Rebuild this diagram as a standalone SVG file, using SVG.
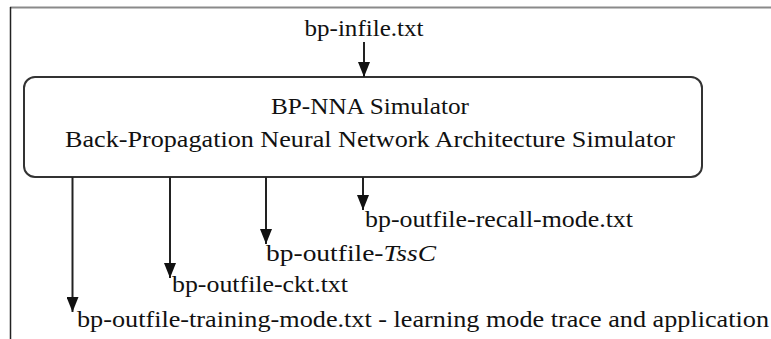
<svg xmlns="http://www.w3.org/2000/svg" width="771" height="339" viewBox="0 0 771 339">
<style>
.t{font-family:'Liberation Serif','Times New Roman',Tinos,'Nimbus Roman','DejaVu Serif',serif;font-size:24px;fill:#111}
.c{stroke:#222;stroke-width:2;fill:none}
</style>
<defs>
<marker id="ah" viewBox="0 0 15 12" refX="15" refY="6" markerWidth="15" markerHeight="12" markerUnits="userSpaceOnUse" orient="auto">
<path d="M0,0 L15,6 L0,12 Z" fill="#111"/>
</marker>
</defs>
<rect width="771" height="339" fill="#fff"/>
<g id="frame">
<line x1="10" y1="7.5" x2="771" y2="7.5" stroke="#8a8a8a" stroke-width="2"/>
<line x1="10.5" y1="7" x2="10.5" y2="339" stroke="#222" stroke-width="1.5"/>
</g>
<g id="input">
<text class="t" x="364" y="36" text-anchor="middle" textLength="119" lengthAdjust="spacingAndGlyphs">bp-infile.txt</text>
</g>
<g id="simulator">
<rect x="24" y="77" width="678" height="100" rx="11" fill="#fff" stroke="#333" stroke-width="2"/>
<text class="t" x="370" y="114" text-anchor="middle" textLength="198" lengthAdjust="spacingAndGlyphs">BP-NNA Simulator</text>
<text class="t" x="370" y="147" text-anchor="middle" textLength="610" lengthAdjust="spacingAndGlyphs">Back-Propagation Neural Network Architecture Simulator</text>
</g>
<g id="recall">
<text class="t" x="365" y="227" textLength="268" lengthAdjust="spacingAndGlyphs">bp-outfile-recall-mode.txt</text>
</g>
<g id="tssc">
<text class="t" x="266" y="260.5" textLength="170" lengthAdjust="spacingAndGlyphs">bp-outfile-<tspan font-style="italic">TssC</tspan></text>
</g>
<g id="ckt">
<text class="t" x="172" y="292" textLength="176" lengthAdjust="spacingAndGlyphs">bp-outfile-ckt.txt</text>
</g>
<g id="training">
<text class="t" x="77" y="327" textLength="692" lengthAdjust="spacingAndGlyphs">bp-outfile-training-mode.txt - learning mode trace and application</text>
</g>
<g id="connectors">
<line class="c" x1="364" y1="42" x2="364" y2="77" marker-end="url(#ah)"/>
<line class="c" x1="72.5" y1="177" x2="72.5" y2="312" marker-end="url(#ah)"/>
<line class="c" x1="170" y1="177" x2="170" y2="278" marker-end="url(#ah)"/>
<line class="c" x1="266" y1="177" x2="266" y2="244" marker-end="url(#ah)"/>
<line class="c" x1="363" y1="177" x2="363" y2="210" marker-end="url(#ah)"/>
</g>
</svg>
